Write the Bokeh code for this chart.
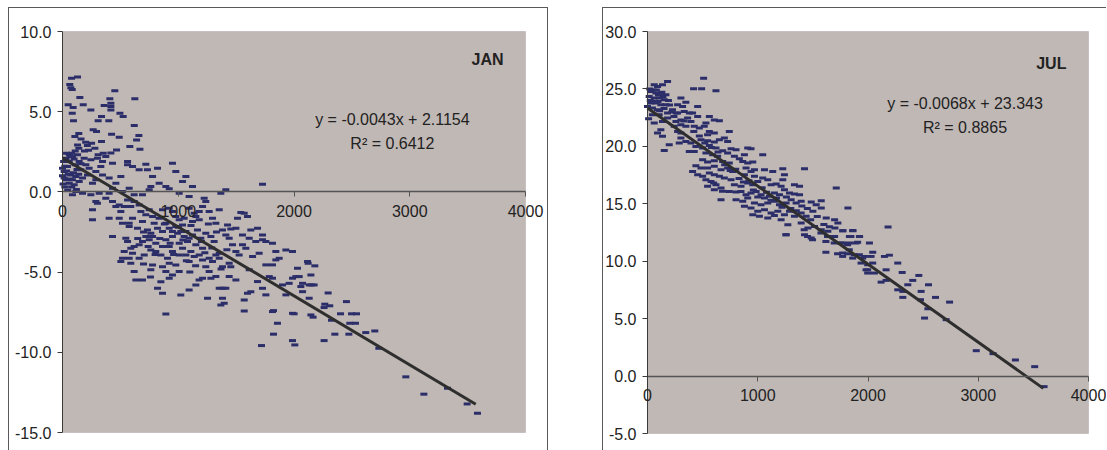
from bokeh.plotting import figure
from bokeh.models import (Range1d, LinearAxis, FixedTicker, NumeralTickFormatter, Label,
                          BoxAnnotation)
from bokeh.layouts import row
from bokeh.embed import file_html
from bokeh.resources import INLINE

# ---------------- DATA ----------------
x_ticks = [0, 1000, 2000, 3000, 4000]
x_tick_labels = ["0", "1000", "2000", "3000", "4000"]
jan_y_ticks = [-15, -10, -5, 0, 5, 10]
jul_y_ticks = [-5, 0, 5, 10, 15, 20, 25, 30]

jan_elev = [
    78, 130, 63, 72, 84, 150, 49, 92, 179, 84, 95, 245, 337, 308, 360, 409, 418, 418, 418, 452,
    400, 496, 524, 625, 620, 660, 640, 490, 424, 265, 294, 107, 141, 130, 141, 251, 280, 337, 467, 582,
    669, 35, 78, 308, 352, 160, 190, 215, 225, 110, 60, 200,
    29, 86, 144, 43, 14, 72, 115, 29, 58, 101, 144, 173, 216, 259, 288, 331, 346, 374, 418, 432,
    302, 245, 202, 158, 461, 504, 562, 562, 605, 662, 720, 734, 778, 821, 763, 835, 893, 950, 979, 1066,
    1037, 1123, 922, 432, 403, 317, 245, 173, 115, 86, 518, 576, 619, 691, 749, 562, 1728, 1411, 1368, 1224,
    1238, 1094, 1008, 0, 58, 130, 187, 14, 86, 230, 346, 403, 288,
    259, 259, 288, 302, 374, 432, 461, 490, 504, 533, 562, 590, 619, 662, 677, 720, 749, 778, 605, 576,
    518, 490, 403, 432, 547, 562, 576, 648, 691, 734, 763, 792, 835, 864, 922, 950, 979, 1008, 1037, 1066,
    1094, 1123, 1152, 1181, 1210, 1267, 1296, 1325, 1354, 1382, 1411, 1440, 1469, 1354, 1296, 1238, 1267, 1210, 1152, 1094,
    1022, 864, 821, 893, 691, 634, 619, 590, 605, 533, 518, 504, 576, 662, 706, 763, 806, 850, 907, 922,
    979, 1008, 950, 922, 763, 778, 864, 893, 1008, 994, 950, 893, 864, 806, 749, 691, 662, 619, 590, 1008,
    1066, 1094, 1138, 1181, 1210, 1267, 1325, 1354, 1382, 1440, 1454, 1498, 1526, 1555, 1584, 1613, 1670, 1728, 1757, 1814,
    1843, 1872, 1814, 1843, 1757, 1699, 1642, 1613, 1498, 1440, 1325, 1282, 1354, 1382, 1411, 1382, 1368, 1397, 1253, 1570,
    1598, 1627, 1728, 1685, 1757, 1786, 1814, 1901, 1930, 1958, 1987, 2016, 2030, 2045, 2059, 2074, 2117, 2131, 2146, 1987,
    1930, 1570, 1541, 1498, 1454, 1426, 1598, 1512, 1555, 1627, 1685, 1728, 2146, 1987, 1814, 1570, 2131, 2074,
    922, 950, 979, 1022, 1051, 1080, 1123, 1166, 1195, 1238, 1282, 1310, 1152, 1210, 1109, 1037, 950, 922, 864, 821,
    778, 720, 893, 1051, 1138, 1181, 1094,
    1823, 1987, 2007, 1719, 1857, 1823, 2001,
    2180, 2122, 2295, 2453, 2150, 2174, 2266, 2309, 2260, 2165, 2324, 2402, 2497, 2540, 2482, 2531, 2353, 2474, 2260, 2620,
    2698, 2733, 2966, 3122, 3326, 3496, 3585,
    0, 10, 20, 35, 50, 65, 80, 95, 110, 125, 140, 20, 45, 70, 5, 30, 55, 100, 120, 160,
    650, 700, 740, 800, 840, 880, 930, 960, 1000, 1040, 1070, 1110, 1150, 1200, 1230, 1260, 1290, 1330, 1370, 1420,
    700, 760, 850, 1100, 1180,
]
jan_temp = [
    7.09, 7.17, 6.7, 6.5, 6.38, 5.88, 5.43, 5.26, 5.43, 4.9, 4.43, 5.11, 4.7, 4.43, 5.38, 5.8, 5.53, 5.32, 5.11, 6.3,
    4.43, 4.9, 4.7, 5.8, 4.14, 3.51, 3.24, 3.41, 3.6, 3.87, 3.76, 3.45, 3.64, 2.93, 2.72, 3.04, 2.72, 3.14, 2.62, 2.83,
    2.66, 2.41, 2.41, 2.31, 2.41, 3.3, 2.55, 2.9, 2.6, 2.55, 2.3, 3.1,
    2.10, 2.21, 1.90, 1.58, 1.27, 1.06, 0.96, 0.75, 0.54, 0.44, 0.65, 0.86, 1.06, 0.54, 1.27, 1.58, 1.90, 2.21, 2.42, 1.79,
    2.10, 2.0, 1.69, 1.38, 0.54, 0.96, 1.90, 1.69, 1.58, 1.38, 1.73, 1.38, 0.96, 1.48, 0.34, 0.54, 0.34, 1.79, 1.27, 0.96,
    0.65, 0.34, 0.19, 0.23, -0.08, -0.08, -0.18, -0.08, 0.02, -0.18, 0.02, 0.23, -0.18, -0.18, 0.13, -0.50, 0.48, 0.13, -0.08, -0.39,
    -0.6, -0.29, -0.08, 1.48, 1.9, 2.31, 2.1, 0.86, 0.75, 1.48, 1.06, 0.86, 0.75,
    -1.12, -1.74, -0.6, -0.70, -0.39, -0.6, -0.91, -0.81, -1.22, -0.91, -0.91, -0.91, -0.6, -0.81, -1.22, -1.43, -1.12, -1.54, -1.64, -1.95,
    -1.95, -1.64, -1.64, -2.78, -2.89, -3.10, -2.16, -2.26, -1.85, -2.37, -2.58, -1.95, -1.64, -1.12, -1.02, -1.22, -1.54, -1.74, -2.06, -2.47,
    -2.89, -1.85, -1.54, -1.22, -0.91, -1.22, -1.64, -1.95, -1.12, -2.37, -2.68, -2.89, -3.30, -3.82, -4.34, -4.66, -4.97, -5.38, -5.80, -6.11,
    -6.42, -6.32, -6.01, -7.61, -5.49, -5.49, -4.97, -4.45, -3.82, -3.72, -4.14, -4.34, -4.14, -4.14, -3.93, -3.62, -3.72, -3.93, -4.14, -4.45,
    -4.55, -4.97, -5.18, -5.38, -4.86, -4.55, -4.66, -4.97, -3.2, -2.58, -2.78, -2.99, -3.41, -3.2, -2.99, -3.10, -3.30, -3.41, -3.51, -3.93,
    -3.93, -4.34, -4.03, -3.93, -4.24, -4.14, -3.93, -4.14, -4.66, -4.45, -4.66, -3.72, -3.93, -3.30, -3.51, -2.89, -3.10, -2.99, -3.10, -3.20,
    -3.72, -4.14, -4.55, -4.24, -4.55, -3.82, -4.03, -4.86, -5.49, -5.28, -5.28, -5.38, -6.01, -6.01, -6.01, -6.63, -7.05, -6.94, -6.63, -6.74,
    -6.32, -6.22, -6.01, -5.59, -6.42, -5.28, -5.38, -5.80, -6.42, -5.70, -5.38, -5.28, -4.76, -5.28, -5.90, -6.22, -4.34, -5.80, -5.18, -3.72,
    -3.62, -1.33, -1.29, -2.26, -2.31, -2.06, -1.54, -1.64, -2.68, -2.37, -2.26, -2.68, -7.67, -7.57, -7.46, -7.42, -6.63, -5.70,
    -2.26, -2.47, -2.16, -2.47, -2.78, -3.10, -2.68, -2.37, -2.89, -2.58, -2.78, -3.10, -3.30, -3.51, -3.72, -3.51, -3.72, -3.41, -2.47, -2.26,
    -2.78, -2.78, -1.95, -1.64, -1.33, -1.74, -1.02,
    -8.87, -9.27, -9.54, -9.58, -8.19, -7.4, -7.6,
    -4.61, -4.45, -6.3, -6.84, -5.8, -5.8, -7.0, -7.1, -7.21, -7.81, -8.0, -7.6, -7.6, -7.6, -8.19, -8.19, -8.87, -8.87, -9.27, -8.77,
    -8.67, -9.75, -11.53, -12.61, -12.24, -13.22, -13.8,
    1.0, 1.9, 1.6, 1.3, 1.1, 0.8, 0.3, 1.2, 1.7, 1.4, 1.1, 0.3, 0.1, 2.2, 0.5, 2.0, 2.4, 2.05, 0.15, 1.75,
    -2.9, -2.5, -3.4, -3.9, -2.9, -2.0, -3.2, -3.9, -2.2, -3.0, -4.3, -2.1, -4.6, -3.1, -3.8, -2.0, -3.5, -2.5, -4.8, -3.6,
    -4.5, -5.3, -5.6, -5.0, -5.5,
]

jul_elev = [
    509, 418, 491, 621, 182, 136, 61, 91, 30, 76, 121, 167, 15, 61, 106, 152, 30, 76, 121, 167,
    0, 45, 91, 303, 348, 455, 273, 318, 227, 273, 333, 182, 106, 45, 409, 455, 561, 606, 652, 530,
    364, 394, 303, 258, 182, 136, 61, 121, 91, 136, 197, 152, 242, 303, 348, 273, 303, 424, 470, 515,
    561, 606, 545, 742, 652, 697, 727, 485, 545, 606, 303, 348, 394, 288, 439, 500, 561, 424, 379, 621,
    682, 758, 803, 530, 591, 636, 727, 788, 833, 909, 939, 879, 1045, 500, 545, 606, 682, 742, 439, 485,
    409, 545, 606, 667, 727, 773, 864, 909, 955, 894, 970, 1061, 1136, 1227, 1424, 455, 500, 561, 606, 652,
    697, 758, 530, 576, 621, 545, 606, 667, 788, 848, 879, 939, 970, 1000, 1045, 1091, 909, 955, 1121, 1167,
    1212, 1227, 1242, 1333, 1379, 742, 803, 848, 894, 939, 985, 1030, 1061, 1106, 1151, 1197, 1242, 1288, 1333, 1379,
    667, 803, 864, 909, 970, 1030, 1091, 1151, 1197, 1257, 1303, 1348, 1394, 1485, 1530, 1576, 1712, 1818, 879, 939,
    1000, 1061, 1121, 1182, 1242, 1288, 1333, 1394, 1439, 1500, 1576, 1621, 1697, 1727, 955, 1015, 1091, 1151, 1212, 1273,
    1394, 1455, 1515, 1576, 1636, 1697, 1773, 1833, 1864, 1924, 2182, 1258, 1424, 1485,
    1770, 1861, 1831, 1922, 1770, 1831, 1891, 2013, 1770, 1816, 1861, 1922, 1967, 2028, 2043, 2149, 2194,
    1937, 1997, 2043, 1982, 1997, 2058, 2164, 2270, 2310, 2461, 2119, 2164, 2270, 2316, 2361, 2406, 2549, 2482, 2316, 2476,
    2543, 2612, 2740, 2513, 2709, 2982, 3134, 3337, 3512, 3597,
    1255, 1421, 1452, 1497, 1573, 1618, 1633, 1694, 1618, 1724, 1770, 1830, 1845, 1876, 1906, 1952, 1997, 1754, 1815,
    20, 50, 100, 140, 40, 95, 150, 200, 240, 10,
    25, 55, 80, 110, 130, 190, 220, 260, 330, 380, 420, 470, 520, 580, 640, 700, 750, 800, 830, 870,
    920, 960, 1000, 1040, 1080, 1120, 1170, 1220, 1260, 1300, 1350, 1400, 1450, 1480, 1540, 1600, 1650, 1700, 600, 680,
]
jul_temp = [
    25.94, 25.01, 25.01, 24.84, 25.65, 25.36, 25.36, 25.22, 24.78, 24.64, 24.49, 24.49, 24.35, 24.2, 24.2, 24.06, 23.77, 23.77, 23.62, 23.62,
    23.48, 23.33, 23.19, 24.2, 23.85, 23.48, 23.62, 23.48, 23.19, 22.9, 23.04, 22.9, 22.75, 22.75, 22.9, 22.6, 22.6, 22.3, 22.23, 22.03,
    22.46, 22.17, 22.3, 22.17, 22.46, 22.17, 22.03, 21.45, 21.16, 20.87, 20.14, 19.65, 21.74, 21.88, 21.74, 21.3, 21.16, 21.74, 21.59, 21.74,
    21.3, 21.16, 21.01, 21.3, 20.58, 20.72, 20.43, 20.58, 20.49, 20.37, 20.72, 20.43, 20.29, 20.29, 19.99, 19.85, 20.08, 19.56, 19.56, 19.85,
    19.62, 19.79, 19.7, 19.42, 19.27, 19.13, 19.42, 19.13, 18.92, 19.85, 19.79, 19.27, 19.27, 18.83, 18.63, 18.75, 18.69, 18.55, 18.31, 18.11,
    17.82, 18.11, 18.26, 17.97, 18.11, 17.82, 18.69, 18.55, 18.63, 18.11, 17.97, 17.97, 17.82, 18.05, 18.05, 17.53, 17.39, 17.68, 17.53, 17.39,
    17.24, 17.1, 17.1, 16.95, 16.66, 16.52, 16.23, 16.37, 16.66, 16.52, 17.53, 17.82, 17.39, 16.95, 17.24, 17.1, 16.8, 16.66, 16.66, 16.72,
    16.52, 17.1, 17.53, 16.66, 16.52, 16.08, 16.02, 16.08, 15.79, 15.94, 16.08, 15.79, 15.5, 15.65, 15.94, 15.79, 16.23, 15.94, 15.85, 15.79,
    15.36, 15.36, 15.21, 15.5, 15.07, 14.92, 15.07, 15.21, 14.92, 15.07, 15.36, 15.07, 15.21, 15.15, 14.92, 15.27, 16.37, 14.63, 14.78, 14.63,
    14.34, 14.49, 14.2, 14.34, 14.05, 14.34, 13.91, 14.2, 13.91, 14.34, 14.63, 13.76, 13.61, 13.32, 14.05, 13.91, 13.76, 13.99, 13.61, 13.18,
    13.32, 12.89, 13.03, 12.74, 12.6, 12.16, 12.66, 12.16, 12.66, 12.16, 12.98, 12.31, 12.31, 12.02,
    12.65, 12.68, 12.16, 12.16, 11.58, 11.58, 11.58, 11.58, 10.71, 10.65, 10.27, 10.56, 10.42, 10.42, 10.79, 10.42, 10.53,
    9.84, 9.69, 9.84, 9.25, 8.97, 8.97, 9.25, 9.84, 9.02, 8.76, 8.18, 8.33, 7.51, 7.37, 7.95, 8.33, 7.95, 7.37, 6.85, 6.65,
    5.86, 6.85, 6.44, 5.05, 4.91, 2.21, 1.95, 1.4, 0.82, -0.92,
    12.3, 12.74, 12.16, 11.87, 12.45, 11.72, 12.16, 11.58, 10.79, 10.65, 10.42, 11.0, 12.16, 10.56, 11.66, 10.27, 9.25, 11.58, 11.43,
    25.0, 24.9, 24.5, 24.3, 23.9, 23.9, 23.3, 23.6, 22.6, 22.4,
    24.0, 23.9, 24.9, 23.1, 24.7, 24.0, 23.0, 22.9, 22.2, 22.9, 21.3, 20.9, 20.3, 19.9, 19.5, 18.4, 17.9, 18.0, 17.2, 16.9,
    17.0, 16.2, 15.6, 16.4, 16.0, 15.3, 15.5, 14.7, 15.6, 14.6, 14.4, 14.8, 14.6, 13.6, 13.9, 13.2, 13.0, 12.9, 16.8, 16.1,
]

jan_trend_x = [0, 3570]
jan_trend_y = [2.1154, -13.24]
jul_trend_x = [0, 3590]
jul_trend_y = [23.343, -1.07]

jan_title = "JAN"
jan_eq = "y = -0.0043x + 2.1154"
jan_r2 = "R\u00b2 = 0.6412"
jul_title = "JUL"
jul_eq = "y = -0.0068x + 23.343"
jul_r2 = "R\u00b2 = 0.8865"

# ---------------- STYLE ----------------
FONT = "Liberation Sans"
FS = "16px"
BG = "#C0B8B5"
MARK = "#2C2E6A"
TREND = "#2E2E2E"
AXIS = "#3A3A3A"
BORDER = "#5A5A5A"
TXT = "#222222"


def make_chart(xs, ys, tx, ty, y_ticks, title, eq, r2,
               title_pos, eq_pos, r2_pos, width, height, pad, mb):
    # pad: pixel gaps (left, right, top, bottom) between canvas edge and plot area
    left, right, top, bottom = pad
    x_lo, x_hi = x_ticks[0], x_ticks[-1]
    y_lo, y_hi = y_ticks[0], y_ticks[-1]
    sx = (width - left - right) / (x_hi - x_lo)
    sy = (height - top - bottom) / (y_hi - y_lo)
    p = figure(width=width, height=height, output_backend="svg", toolbar_location=None,
               x_range=Range1d(x_lo - left / sx, x_hi + right / sx),
               y_range=Range1d(y_lo - bottom / sy, y_hi + top / sy),
               x_axis_location=None, y_axis_location=None,
               min_border=0, min_border_left=0, min_border_right=0,
               min_border_top=0, min_border_bottom=0,
               background_fill_color="white", border_fill_color="white",
               outline_line_color=None, margin=mb)
    p.grid.visible = False

    p.add_layout(BoxAnnotation(left=x_lo, right=x_hi, bottom=y_lo, top=y_hi,
                               fill_color=BG, fill_alpha=1.0,
                               line_color="#8E8684", line_width=1, level="underlay"))

    ya = LinearAxis(fixed_location=x_lo, bounds=(y_lo, y_hi))
    ya.ticker = FixedTicker(ticks=y_ticks)
    ya.formatter = NumeralTickFormatter(format="0.0")
    ya.major_tick_out = 5
    ya.major_tick_in = 0
    ya.minor_tick_line_color = None
    ya.axis_line_color = AXIS
    ya.major_tick_line_color = AXIS
    ya.major_label_standoff = 6
    ya.major_label_text_font = FONT
    ya.major_label_text_font_size = FS
    ya.major_label_text_color = TXT
    p.add_layout(ya, "left")

    xa = LinearAxis(fixed_location=0, bounds=(x_lo, x_hi))
    xa.ticker = FixedTicker(ticks=x_ticks)
    xa.major_tick_out = 5
    xa.major_tick_in = 0
    xa.minor_tick_line_color = None
    xa.axis_line_color = "#555555"
    xa.axis_line_width = 1.3
    xa.major_tick_line_color = "#555555"
    xa.major_label_text_font_size = "0px"
    xa.major_label_text_alpha = 0
    p.add_layout(xa, "below")

    p.scatter(xs, ys, marker="dash", size=7, line_color=MARK, line_width=3)
    p.line(tx, ty, line_color=TREND, line_width=3)

    for t, lab in zip(x_ticks, x_tick_labels):
        p.add_layout(Label(x=t, y=0, y_offset=-13, text=lab, text_font=FONT,
                           text_font_size=FS, text_color=TXT,
                           text_align="center", text_baseline="top"))

    p.add_layout(Label(x=title_pos[0], y=title_pos[1], text=title, text_font=FONT,
                       text_font_size=FS, text_font_style="bold", text_color=TXT,
                       text_align="right", text_baseline="middle"))
    p.add_layout(Label(x=eq_pos[0], y=eq_pos[1], text=eq, text_font=FONT,
                       text_font_size=FS, text_color=TXT,
                       text_align="center", text_baseline="middle"))
    p.add_layout(Label(x=r2_pos[0], y=r2_pos[1], text=r2, text_font=FONT,
                       text_font_size=FS, text_color=TXT,
                       text_align="center", text_baseline="middle"))
    return p


p1 = make_chart(jan_elev, jan_temp, jan_trend_x, jan_trend_y, jan_y_ticks,
                jan_title, jan_eq, jan_r2,
                (3810, 8.25), (2850, 4.5), (2850, 3.0),
                540, 443, (53, 24, 23, 19), (7, 0, 0, 8))
p1.styles = {"border-left": "1px solid " + BORDER, "border-top": "1px solid " + BORDER,
             "border-right": "1px solid " + BORDER}

p2 = make_chart(jul_elev, jul_temp, jul_trend_x, jul_trend_y, jul_y_ticks,
                jul_title, jul_eq, jul_r2,
                (3800, 27.2), (2880, 23.7), (2880, 21.65),
                504, 443, (44, 19, 23, 18), (7, 0, 0, 54))
p2.styles = {"border-left": "1px solid " + BORDER, "border-top": "1px solid " + BORDER}

layout = row(p1, p2)
open("out.html", "w").write(file_html(layout, INLINE))
